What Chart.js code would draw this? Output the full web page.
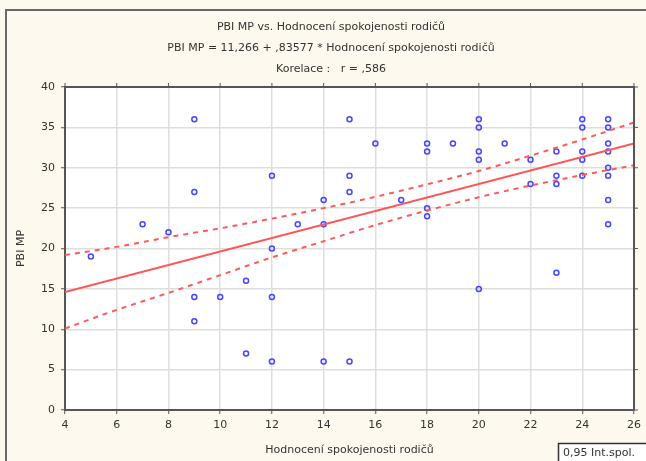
<!DOCTYPE html>
<html>
<head>
<meta charset="utf-8">
<script src="https://cdn.jsdelivr.net/npm/chart.js@4"></script>
<style>
  html, body { margin: 0; padding: 0; background: #fef9ee; }
</style>
</head>
<body>
<canvas id="chart" width="646" height="461"></canvas>
<script>
// hodnocení spokojenosti rodičů (x) a PBI MP (y)
const satisfaction = [5, 7, 8, 9, 9, 9, 9, 10, 11, 11, 12, 12, 12, 12, 13, 14, 14, 14, 15, 15, 15, 15, 16, 17, 18, 18, 18, 18, 19, 20, 20, 20, 20, 20, 21, 22, 22, 23, 23, 23, 23, 24, 24, 24, 24, 24, 25, 25, 25, 25, 25, 25, 25, 25];
const pbiMp = [19, 23, 22, 36, 27, 14, 11, 14, 16, 7, 29, 20, 14, 6, 23, 26, 23, 6, 36, 29, 27, 6, 33, 26, 33, 32, 25, 24, 33, 36, 35, 32, 31, 15, 33, 31, 28, 32, 29, 28, 17, 36, 35, 32, 31, 29, 36, 35, 33, 32, 30, 29, 26, 23];

// regresní přímka (konce)
const fitX = [4, 26];
const fitY = [14.61, 33.0];

// 0,95 interval spolehlivosti
const bandX = [4, 6, 8, 10, 12, 14, 16, 18, 20, 22, 24, 26];
const bandUpper = [19.2, 20.2, 21.4, 22.5, 23.7, 25.0, 26.4, 27.95, 29.6, 31.5, 33.5, 35.6];
const bandLower = [10.1, 12.4, 14.5, 16.7, 18.9, 20.9, 22.9, 24.7, 26.35, 27.8, 29.1, 30.3];

const titleLines = [
    'PBI MP vs. Hodnocení spokojenosti rodičů',
    'PBI MP = 11,266 + ,83577 * Hodnocení spokojenosti rodičů',
    'Korelace :   r = ,586'
];
const xTitle = 'Hodnocení spokojenosti rodičů';
const yTitle = 'PBI MP';
const legendText = '0,95 Int.spol.';

const pair = (xs, ys) => xs.map((x, i) => ({ x: x, y: ys[i] }));

const FONT = '"DejaVu Sans", sans-serif';
const frameColor = '#555';
const textColor = '#333';

const framePlugin = {
    id: 'frame',
    beforeDraw(chart) {
        const { ctx, chartArea: a } = chart;
        ctx.save();
        ctx.fillStyle = '#fef9ee';
        ctx.fillRect(0, 0, chart.width, chart.height);
        ctx.strokeStyle = '#6a6a6a';
        ctx.lineWidth = 2;
        ctx.strokeRect(6, 10, 700, 500);
        ctx.fillStyle = '#ffffff';
        ctx.fillRect(a.left, a.top, a.right - a.left, a.bottom - a.top);
        ctx.restore();
    },
    afterDraw(chart) {
        const { ctx, chartArea: a, scales } = chart;
        ctx.save();
        // horní a pravý okraj grafu
        ctx.strokeStyle = frameColor;
        ctx.lineWidth = 2;
        ctx.beginPath();
        ctx.moveTo(a.left, a.top);
        ctx.lineTo(a.right, a.top);
        ctx.lineTo(a.right, a.bottom);
        ctx.stroke();
        ctx.lineWidth = 1;
        ctx.beginPath();
        scales.x.ticks.forEach(t => {
            const px = scales.x.getPixelForValue(t.value);
            ctx.moveTo(px, a.top);
            ctx.lineTo(px, a.top - 4);
        });
        scales.y.ticks.forEach(t => {
            const py = scales.y.getPixelForValue(t.value);
            ctx.moveTo(a.right, py);
            ctx.lineTo(a.right + 4, py);
        });
        ctx.stroke();

        // nadpis
        ctx.fillStyle = textColor;
        ctx.font = '11px ' + FONT;
        ctx.textAlign = 'center';
        ctx.textBaseline = 'middle';
        const ys = [27, 48, 69];
        titleLines.forEach((line, i) => ctx.fillText(line, 331, ys[i]));

        // legenda
        ctx.fillStyle = '#ffffff';
        ctx.fillRect(558, 443, 100, 30);
        ctx.strokeStyle = '#333';
        ctx.lineWidth = 1.5;
        ctx.strokeRect(558.5, 443.5, 100, 30);
        ctx.fillStyle = textColor;
        ctx.textAlign = 'left';
        ctx.fillText(legendText, 563, 453);
        ctx.restore();
    }
};

new Chart(document.getElementById('chart').getContext('2d'), {
    type: 'scatter',
    data: {
        datasets: [
            {
                type: 'line',
                label: 'fit',
                data: pair(fitX, fitY),
                borderColor: 'rgb(255, 85, 85)',
                borderWidth: 2,
                pointRadius: 0,
                fill: false
            },
            {
                type: 'line',
                label: 'upper',
                data: pair(bandX, bandUpper),
                borderColor: 'rgb(255, 90, 90)',
                borderWidth: 2,
                borderDash: [5, 5],
                cubicInterpolationMode: 'monotone',
                pointRadius: 0,
                fill: false
            },
            {
                type: 'line',
                label: 'lower',
                data: pair(bandX, bandLower),
                borderColor: 'rgb(255, 90, 90)',
                borderWidth: 2,
                borderDash: [5, 5],
                cubicInterpolationMode: 'monotone',
                pointRadius: 0,
                fill: false
            },
            {
                label: 'PBI MP',
                data: pair(satisfaction, pbiMp),
                pointStyle: 'circle',
                pointRadius: 2.5,
                pointBorderWidth: 1.5,
                pointBorderColor: 'rgb(70, 70, 255)',
                pointBackgroundColor: 'rgba(255, 255, 255, 0)',
                showLine: false
            }
        ]
    },
    options: {
        responsive: false,
        animation: false,
        layout: { padding: { left: 0, top: 87, right: 9, bottom: 0 } },
        plugins: {
            legend: { display: false },
            tooltip: { enabled: false }
        },
        scales: {
            x: {
                type: 'linear',
                min: 4,
                max: 26,
                afterFit: s => { s.height = 51; },
                ticks: { stepSize: 2, padding: 5, color: textColor, font: { family: FONT, size: 11 } },
                grid: { color: '#dedede', lineWidth: 1.5, tickLength: 4, tickColor: frameColor, tickWidth: 1 },
                border: { color: frameColor, width: 2 },
                title: { display: true, text: xTitle, color: textColor, font: { family: FONT, size: 11 }, padding: { top: 0, bottom: 4 } }
            },
            y: {
                type: 'linear',
                min: 0,
                max: 40,
                afterFit: s => { s.width = 65; },
                ticks: { stepSize: 5, padding: 6, color: textColor, font: { family: FONT, size: 11 } },
                grid: { color: '#dedede', lineWidth: 1.5, tickLength: 4, tickColor: frameColor, tickWidth: 1 },
                border: { color: frameColor, width: 2 },
                title: { display: true, text: yTitle, color: textColor, font: { family: FONT, size: 11 }, padding: { top: 15, bottom: 0 } }
            }
        }
    },
    plugins: [framePlugin]
});
</script>
</body>
</html>
